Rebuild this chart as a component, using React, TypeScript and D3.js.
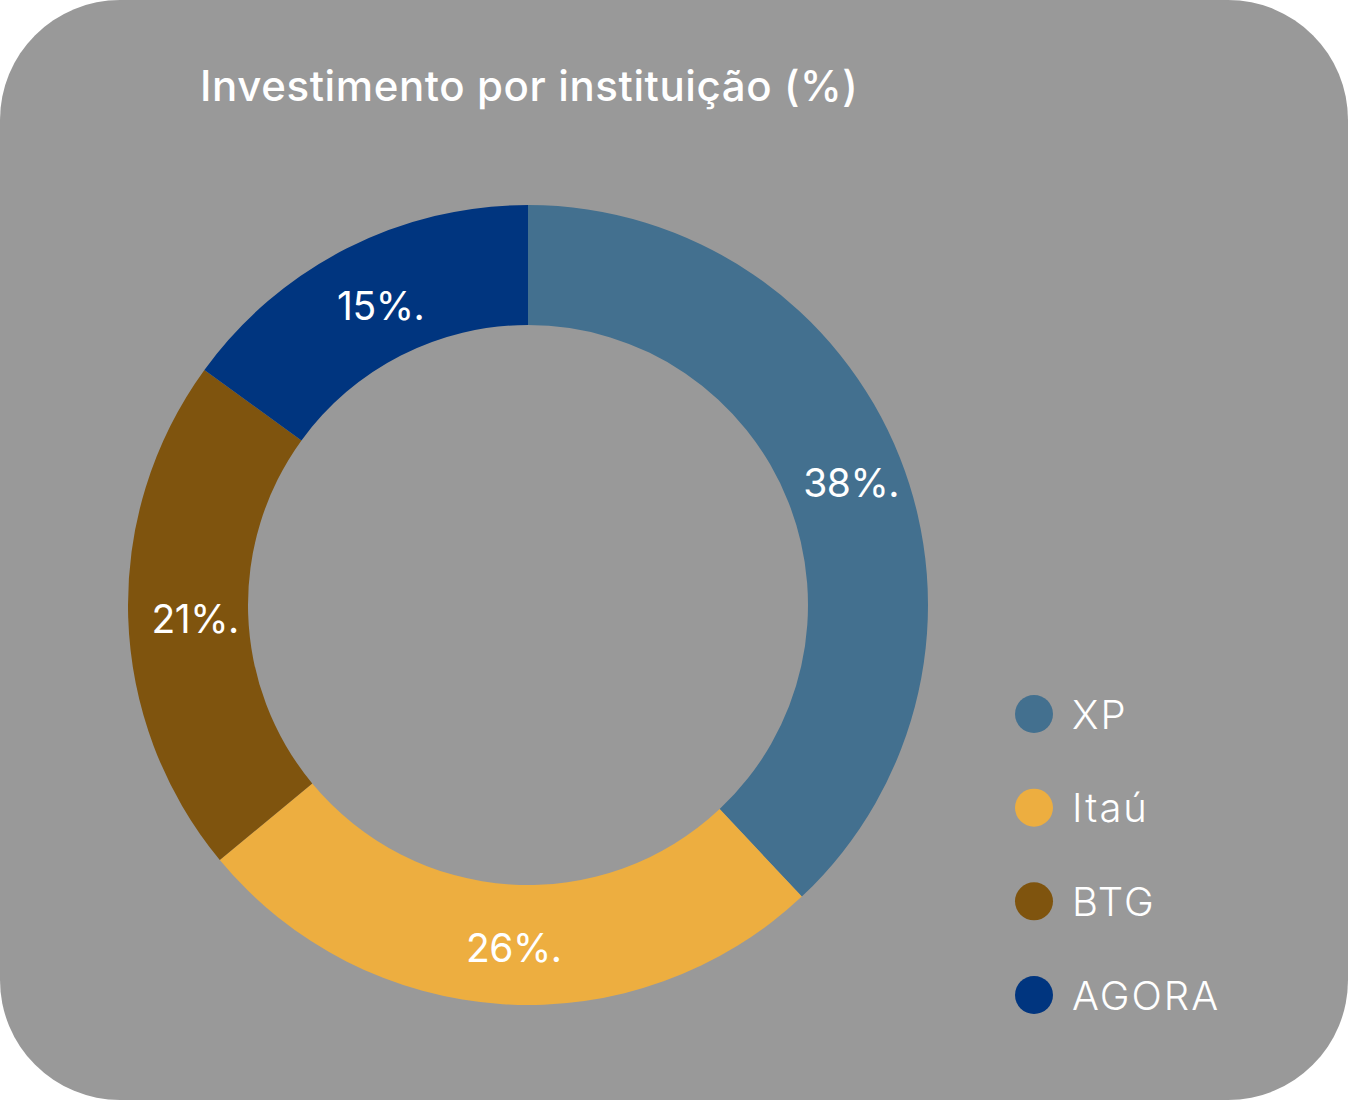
import React from 'react';
import * as d3 from 'd3';

const institutions = ['XP', 'Itaú', 'BTG', 'AGORA'];
const shares = [38, 26, 21, 15];
const colors = ['#43708F', '#EDAE40', '#7F540E', '#00357F'];
const title = 'Investimento por instituição (%)';

const W = 1348;
const H = 1100;
const cx = 528;
const cy = 605;
const outerR = 400;
const innerR = 280;

type Slice = { name: string; value: number; color: string };

export default function App() {
  const data: Slice[] = institutions.map((name, i) => ({ name, value: shares[i], color: colors[i] }));

  const pie = d3.pie<Slice>().value(d => d.value).sort(null);
  const arcs = pie(data);
  const arc = d3.arc<d3.PieArcDatum<Slice>>().innerRadius(innerR).outerRadius(outerR);
  const labelArc = d3.arc<d3.PieArcDatum<Slice>>().innerRadius(340).outerRadius(340);

  const legendY = d3.scalePoint<string>()
    .domain(institutions)
    .range([714, 995]);

  return (
    <svg
      width={W}
      height={H}
      style={{ position: 'absolute', left: 0, top: 0, display: 'block' }}
    >
      <rect x={0} y={0} width={W} height={H} fill="#ffffff" />
      <rect x={0} y={0} width={W} height={H} rx={120} ry={120} fill="#999999" />

      <text
        x={200}
        y={101}
        fill="#ffffff"
        fontFamily="Inter, 'Noto Sans', sans-serif"
        fontWeight={500}
        fontSize={42}
        letterSpacing={0.6}
      >
        {title}
      </text>

      <g transform={`translate(${cx},${cy})`}>
        {arcs.map(a => (
          <path key={a.data.name} d={arc(a) ?? ''} fill={a.data.color} />
        ))}
        {arcs.map(a => {
          const [lx, ly] = labelArc.centroid(a);
          return (
            <text
              key={`l-${a.data.name}`}
              x={lx}
              y={ly}
              dx={7}
              dy={3}
              fill="#ffffff"
              textAnchor="middle"
              dominantBaseline="central"
              fontFamily="Inter, 'Noto Sans', sans-serif"
              fontWeight={400}
              fontSize={39}
              letterSpacing={-0.5}
            >
              {`${a.data.value}%.`}
            </text>
          );
        })}
      </g>

      <g>
        {data.map(d => (
          <g key={`lg-${d.name}`} transform={`translate(1034,${legendY(d.name)})`}>
            <circle r={19} fill={d.color} />
            <text
              x={38}
              y={0}
              dominantBaseline="central"
              fill="#ffffff"
              fontFamily="Inter, 'Noto Sans', sans-serif"
              fontWeight={300}
              fontSize={40}
              letterSpacing={2}
            >
              {d.name}
            </text>
          </g>
        ))}
      </g>
    </svg>
  );
}
